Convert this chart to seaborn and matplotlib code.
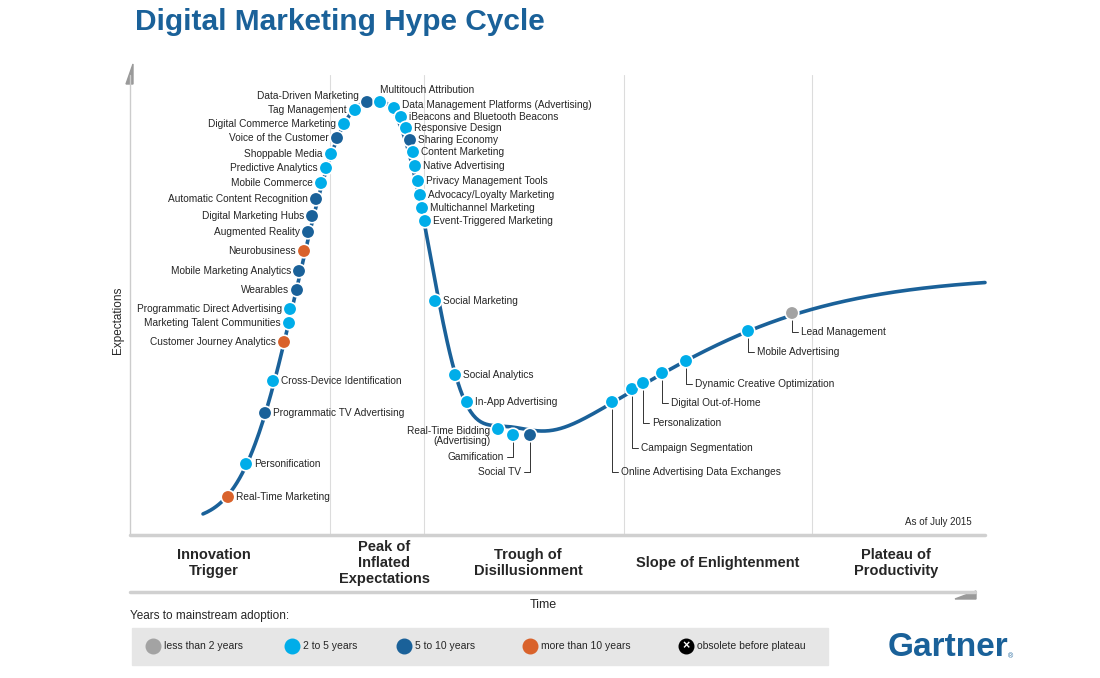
import numpy as np
import pandas as pd
import matplotlib.pyplot as plt
import seaborn as sns
from matplotlib.patches import Rectangle, Polygon

sns.set_theme(style="white")
plt.rcParams['font.family'] = ['Liberation Sans', 'DejaVu Sans']

# Technologies: position on the chart (time, expectations in chart units), adoption class, label placement
names = [
    'Real-Time Marketing', 'Personification', 'Programmatic TV Advertising', 'Cross-Device Identification',
    'Customer Journey Analytics', 'Marketing Talent Communities', 'Programmatic Direct Advertising',
    'Wearables', 'Mobile Marketing Analytics', 'Neurobusiness', 'Augmented Reality', 'Digital Marketing Hubs',
    'Automatic Content Recognition', 'Mobile Commerce', 'Predictive Analytics', 'Shoppable Media',
    'Voice of the Customer', 'Digital Commerce Marketing', 'Tag Management', 'Data-Driven Marketing',
    'Multitouch Attribution', 'Data Management Platforms (Advertising)', 'iBeacons and Bluetooth Beacons',
    'Responsive Design', 'Sharing Economy', 'Content Marketing', 'Native Advertising',
    'Privacy Management Tools', 'Advocacy/Loyalty Marketing', 'Multichannel Marketing',
    'Event-Triggered Marketing', 'Social Marketing', 'Social Analytics', 'In-App Advertising',
    'Real-Time Bidding\n(Advertising)', 'Gamification', 'Social TV', 'Online Advertising Data Exchanges',
    'Campaign Segmentation', 'Personalization', 'Digital Out-of-Home', 'Dynamic Creative Optimization',
    'Mobile Advertising', 'Lead Management',
]
pos_x = [228, 246, 265, 273, 284, 289, 290, 297, 299, 304, 308, 312, 316, 321, 326, 331, 337, 344, 355, 367,
         380, 394, 401, 406, 410, 413, 415, 418, 420, 422, 425, 435, 455, 467, 498, 513, 530,
         612, 632, 643, 662, 686, 748, 792]
pos_y = [497, 464, 413, 381, 342, 323, 309, 290, 271, 251, 232, 216, 199, 183, 168, 154, 138, 124, 110, 102,
         102, 108, 117, 128, 140, 152, 166, 181, 195, 208, 221, 301, 375, 402, 429, 435, 435,
         402, 389, 383, 373, 361, 331, 313]
adoption = ['>10', '2-5', '5-10', '2-5', '>10', '2-5', '2-5', '5-10', '5-10', '>10', '5-10', '5-10',
            '5-10', '2-5', '2-5', '2-5', '5-10', '2-5', '2-5', '5-10', '2-5', '2-5', '2-5', '2-5',
            '5-10', '2-5', '2-5', '2-5', '2-5', '2-5', '2-5', '2-5', '2-5', '2-5', '2-5', '2-5',
            '5-10', '2-5', '2-5', '2-5', '2-5', '2-5', '2-5', '<2']
side = ['R', 'R', 'R', 'R'] + ['L'] * 16 + ['T'] + ['R'] * 13 + ['L', 'LD', 'LD'] + ['RD'] * 7
drop = [0] * 35 + [22, 37, 70, 59, 40, 30, 23, 21, 19]
label_dy = [0] * 19 + [-6, 0, -3] + [0] * 22

palette = {'<2': '#a3a3a3', '2-5': '#00ade9', '5-10': '#1a6199', '>10': '#d9622b'}
legend_labels = ['less than 2 years', '2 to 5 years', '5 to 10 years', 'more than 10 years']
phases = ['Innovation\nTrigger', 'Peak of\nInflated\nExpectations', 'Trough of\nDisillusionment',
          'Slope of Enlightenment', 'Plateau of\nProductivity']
phase_x = [214, 384, 528, 718, 896]
phase_edges = [330, 424, 624, 812]


def hype(x):
    x = np.asarray(x, dtype=float)
    dx = x - 370
    w = np.where(dx < 0, 92, 74)
    p = np.where(dx < 0, 2.4, 2.8)
    peak = 402 * np.exp(-(np.abs(dx) / w) ** p)
    tail = 34 * np.exp(-((x - 495) / 45) ** 2)
    slope = 250 / (1 + np.exp(-(x - 617) / 106))
    return 525 - peak - tail - slope


fig = plt.figure(figsize=(11, 6.78), dpi=100)
ax = fig.add_axes([0, 0, 1, 1])
ax.set_xlim(0, 1100)
ax.set_ylim(678, 0)
ax.axis('off')

# frame
for e in phase_edges:
    ax.plot([e, e], [75, 535], color='#dcdcdc', lw=0.8)
ax.plot([130, 130], [75, 535], color='#cccccc', lw=1)
ax.add_patch(Polygon([[126, 84], [133, 64], [133, 84]], color='#9a9a9a'))
ax.plot([130, 985], [535, 535], color='#d0d0d0', lw=2.5)
ax.plot([130, 975], [592, 592], color='#d0d0d0', lw=2.5)
ax.add_patch(Polygon([[955, 599], [976, 591], [976, 599]], color='#9a9a9a'))
for t, px in zip(phases, phase_x):
    ax.text(px, 563, t, ha='center', va='center', fontsize=10.5, fontweight='bold', linespacing=1.2)
ax.text(118, 320, 'Expectations', rotation=90, ha='center', va='center', fontsize=8.5)
ax.text(543, 605, 'Time', ha='center', va='center', fontsize=9)
ax.text(972, 522, 'As of July 2015', ha='right', va='center', fontsize=7)

# curve
cx = np.linspace(203, 985, 600)
curve = pd.DataFrame({'x': cx, 'y': hype(cx)})
sns.lineplot(data=curve, x='x', y='y', ax=ax, color='#1a6199', lw=2.6, sort=False)

df = pd.DataFrame({'name': names, 'x': pos_x, 'y': pos_y, 'adopt': adoption, 'side': side,
                   'drop': drop, 'dy': label_dy})
sns.scatterplot(data=df, x='x', y='y', hue='adopt', palette=palette, s=95, edgecolor='white',
                linewidth=1.2, ax=ax, legend=False, zorder=5)

for _, r in df.iterrows():
    x, y = r['x'], r['y'] + r['dy']
    if r['side'] == 'R':
        ax.text(x + 8, y, r['name'], ha='left', va='center', fontsize=7.3)
    elif r['side'] == 'L':
        off = 7 if '\n' in r['name'] else 0
        ax.text(x - 8, y + off, r['name'], ha='right', va='center', fontsize=7.3, linespacing=0.95)
    elif r['side'] == 'T':
        ax.text(x, y - 12, r['name'], ha='left', va='center', fontsize=7.3)
    elif r['side'] == 'LD':
        ax.plot([x, x, x - 6], [y + 6, y + r['drop'], y + r['drop']], color='#333333', lw=0.7)
        ax.text(x - 9, y + r['drop'], r['name'], ha='right', va='center', fontsize=7.3)
    else:
        ax.plot([x, x, x + 6], [y + 6, y + r['drop'], y + r['drop']], color='#333333', lw=0.7)
        ax.text(x + 9, y + r['drop'], r['name'], ha='left', va='center', fontsize=7.3)

# title and legend
ax.text(135, 22, 'Digital Marketing Hype Cycle', fontsize=21.5, fontweight='bold', color='#1a6199',
        ha='left', va='center')
ax.text(130, 616, 'Years to mainstream adoption:', fontsize=8.5, ha='left', va='center')
ax.add_patch(Rectangle((132, 628), 696, 37, color='#e6e6e6', zorder=1))
leg_x = [153, 292, 404, 530]
for lx, (k, lab) in zip(leg_x, zip(palette.keys(), legend_labels)):
    ax.scatter([lx], [646], s=110, color=palette[k], zorder=3)
    ax.text(lx + 11, 646, lab, fontsize=7.5, ha='left', va='center')
ax.scatter([686], [646], s=110, color='black', zorder=3)
ax.text(686, 646, '×', color='white', fontsize=9, ha='center', va='center', fontweight='bold', zorder=4)
ax.text(697, 646, 'obsolete before plateau', fontsize=7.5, ha='left', va='center')
ax.text(948, 647, 'Gartner', fontsize=24, fontweight='bold', color='#1a6199', ha='center', va='center')
ax.text(1008, 657, '®', fontsize=5, color='#1a6199', ha='left', va='center')

fig.savefig('out.png', dpi=100)
